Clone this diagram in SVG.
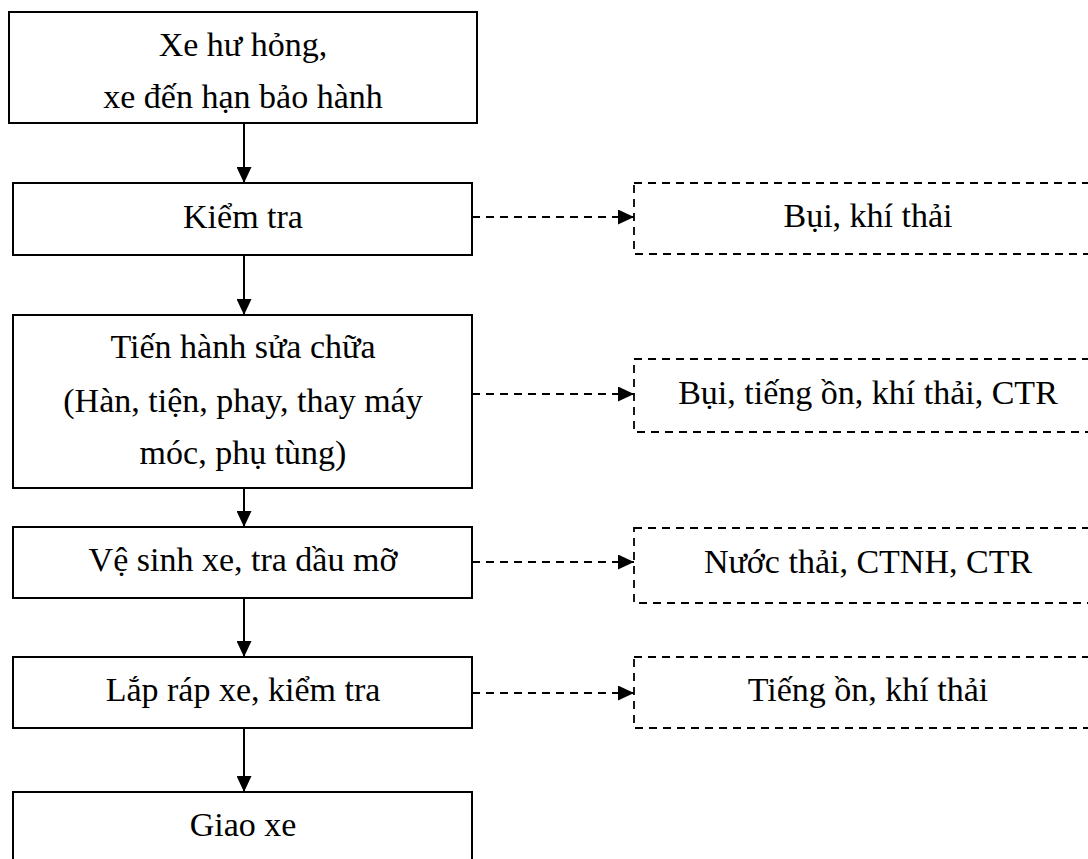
<svg xmlns="http://www.w3.org/2000/svg" width="1088" height="859" viewBox="0 0 1088 859">
  <style>
    .box { fill: #ffffff; stroke: #000000; stroke-width: 2; }
    .dbox { fill: #ffffff; stroke: #000000; stroke-width: 1.8; stroke-dasharray: 8 6; }
    .lbl { font-family: "Liberation Serif", "Times New Roman", serif; font-size: 34px; fill: #000000; text-anchor: middle; }
    .solid { stroke: #000000; stroke-width: 2; fill: none; }
    .dash { stroke: #000000; stroke-width: 1.8; stroke-dasharray: 8 6; fill: none; }
  </style>
  <defs>
    <marker id="arrow" markerUnits="userSpaceOnUse" markerWidth="16" markerHeight="15" refX="16" refY="7.5" orient="auto">
      <path d="M0,0 L16,7.5 L0,15 Z" fill="#000000"/>
    </marker>
  </defs>
  <rect width="1088" height="859" fill="#ffffff"/>

  <g id="connectors">
    <line class="solid" x1="244" y1="123" x2="244" y2="183" marker-end="url(#arrow)"/>
    <line class="solid" x1="244" y1="255" x2="244" y2="315" marker-end="url(#arrow)"/>
    <line class="solid" x1="244" y1="470" x2="244" y2="527" marker-end="url(#arrow)"/>
    <line class="solid" x1="244" y1="598" x2="244" y2="657" marker-end="url(#arrow)"/>
    <line class="solid" x1="244" y1="728" x2="244" y2="792" marker-end="url(#arrow)"/>
    <line class="dash" x1="472" y1="217" x2="634" y2="217" marker-end="url(#arrow)"/>
    <line class="dash" x1="472" y1="394" x2="634" y2="394" marker-end="url(#arrow)"/>
    <line class="dash" x1="472" y1="562" x2="634" y2="562" marker-end="url(#arrow)"/>
    <line class="dash" x1="472" y1="693" x2="634" y2="693" marker-end="url(#arrow)"/>
  </g>

  <g id="n1">
    <rect class="box" x="9" y="12" width="468" height="111"/>
    <text class="lbl" x="243" y="56">Xe hư hỏng,</text>
    <text class="lbl" x="243" y="108">xe đến hạn bảo hành</text>
  </g>
  <g id="n2">
    <rect class="box" x="13" y="183" width="459" height="72"/>
    <text class="lbl" x="243" y="228">Kiểm tra</text>
  </g>
  <g id="n3">
    <rect class="box" x="13" y="315" width="459" height="173"/>
    <text class="lbl" x="243" y="358">Tiến hành sửa chữa</text>
    <text class="lbl" x="243" y="412">(Hàn, tiện, phay, thay máy</text>
    <text class="lbl" x="243" y="464">móc, phụ tùng)</text>
  </g>
  <g id="n4">
    <rect class="box" x="13" y="527" width="459" height="71"/>
    <text class="lbl" x="243" y="571">Vệ sinh xe, tra dầu mỡ</text>
  </g>
  <g id="n5">
    <rect class="box" x="13" y="657" width="459" height="71"/>
    <text class="lbl" x="243" y="701">Lắp ráp xe, kiểm tra</text>
  </g>
  <g id="n6">
    <rect class="box" x="13" y="792" width="459" height="90"/>
    <text class="lbl" x="243" y="836">Giao xe</text>
  </g>

  <g id="d1">
    <rect class="dbox" x="634" y="183" width="480" height="71"/>
    <text class="lbl" x="868" y="227">Bụi, khí thải</text>
  </g>
  <g id="d2">
    <rect class="dbox" x="634" y="359" width="480" height="73"/>
    <text class="lbl" x="868" y="404">Bụi, tiếng ồn, khí thải, CTR</text>
  </g>
  <g id="d3">
    <rect class="dbox" x="634" y="528" width="480" height="75"/>
    <text class="lbl" x="868" y="573">Nước thải, CTNH, CTR</text>
  </g>
  <g id="d4">
    <rect class="dbox" x="634" y="657" width="480" height="71"/>
    <text class="lbl" x="868" y="701">Tiếng ồn, khí thải</text>
  </g>
</svg>
